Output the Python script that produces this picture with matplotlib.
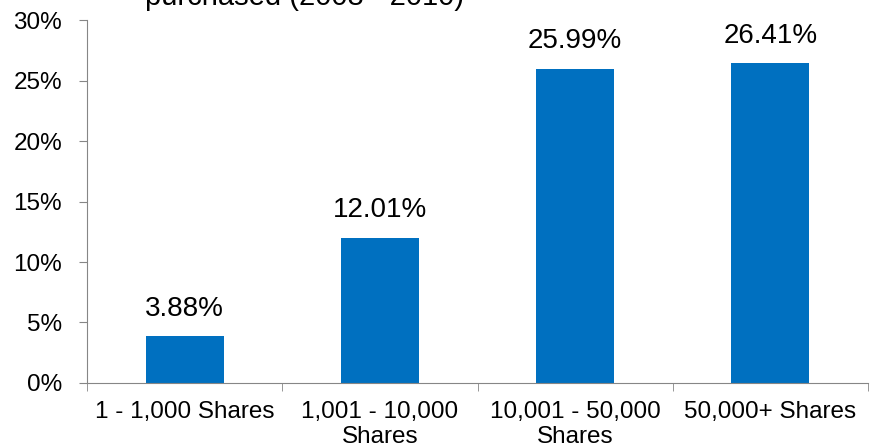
import matplotlib.pyplot as plt
from matplotlib.ticker import FixedLocator, NullFormatter

plt.rcParams['font.family'] = ['Liberation Sans', 'DejaVu Sans']

categories = ['1 - 1,000 Shares', '1,001 - 10,000\nShares', '10,001 - 50,000\nShares', '50,000+ Shares']
values = [3.88, 12.01, 25.99, 26.41]
yticks = [0, 5, 10, 15, 20, 25, 30]

fig = plt.figure(figsize=(8.71, 4.46), dpi=100)
ax = fig.add_axes([0.1, 0.1413, 0.8966, 0.8137])

x = range(len(categories))
bars = ax.bar(x, values, width=0.4, color='#0070C0')

# value labels above the bars
for bar, v in zip(bars, values):
    ax.text(bar.get_x() + bar.get_width() / 2, v + 1.2, f'{v:.2f}%',
            ha='center', va='bottom', fontsize=20)

ax.set_xlim(-0.5, len(categories) - 0.5)
ax.set_ylim(0, 30)
ax.set_yticks(yticks)
ax.set_yticklabels([f'{t}%' for t in yticks], fontsize=17.5)
ax.set_xticks(list(x))
ax.set_xticklabels(categories, fontsize=17.5, linespacing=1.15)
ax.xaxis.set_minor_locator(FixedLocator([i - 0.5 for i in range(len(categories) + 1)]))
ax.xaxis.set_minor_formatter(NullFormatter())
ax.tick_params(axis='x', which='major', length=0, pad=13)
ax.tick_params(axis='x', which='minor', length=6, color='#868686', direction='out')
ax.tick_params(axis='y', length=6, color='#868686', direction='out', pad=12)

for s in ['top', 'right']:
    ax.spines[s].set_visible(False)
for s in ['left', 'bottom']:
    ax.spines[s].set_color('#868686')

# title is cut off at the top edge in the original
fig.text(0.167, 1 - 5 / 446, 'purchased (2008 - 2010)', fontsize=21, ha='left', va='baseline')

fig.savefig('out.png', dpi=100)
